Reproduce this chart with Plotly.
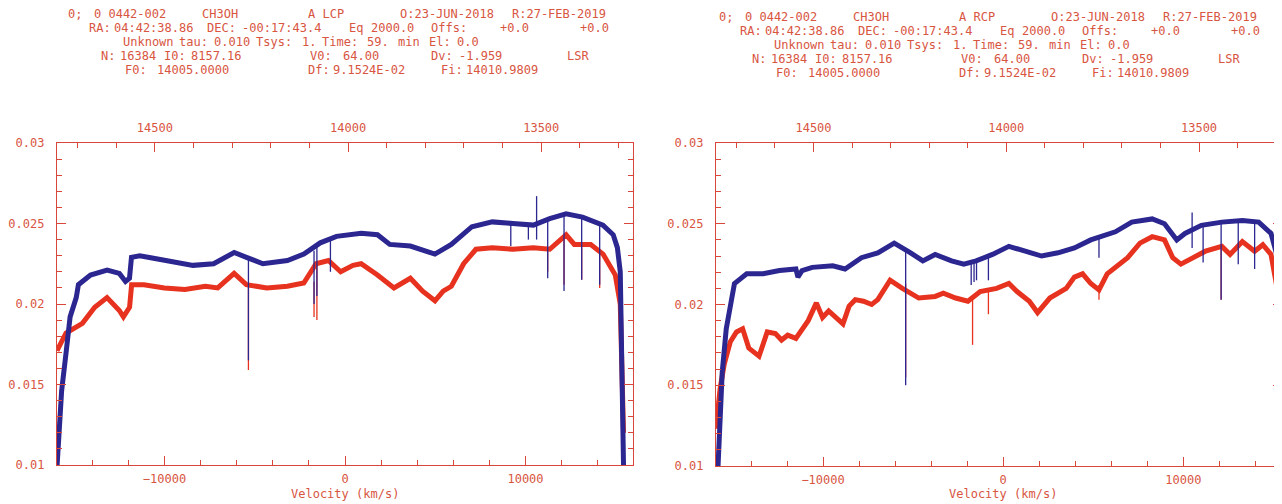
import plotly.graph_objects as go

# ---------------- data ----------------
# spectrum metadata (from header)
F0 = 14005.0      # MHz at reference channel
V0 = 64.0         # km/s at reference channel
DV = -1.959       # km/s per channel
DF = 0.091524     # MHz per channel

# Left panel (A LCP)
left_blue_v = [-15950, -15850, -15700, -15450, -15230, -14890, -14770, -14100, -13180, -12500,
               -12160, -11940, -11830, -11370, -10000, -8420, -7280, -6140, -5460, -4550,
               -3190, -2280, -1370, -470, 900, 1800, 2480, 3620, 4980, 5890,
               7030, 8160, 9300, 10440, 11340, 12250, 13160, 14290, 14860, 15090,
               15250, 15340, 15430]
left_blue_f = [0.0100, 0.0125, 0.0146, 0.0170, 0.0192, 0.0204, 0.0212, 0.0218, 0.0221, 0.0219,
               0.0214, 0.0216, 0.0229, 0.0230, 0.0227, 0.0224, 0.0225, 0.0232, 0.0229, 0.0225,
               0.0227, 0.0231, 0.0238, 0.0242, 0.0244, 0.0243, 0.0237, 0.0236, 0.0231, 0.0237,
               0.0248, 0.0251, 0.0250, 0.0249, 0.0253, 0.0256, 0.0254, 0.0249, 0.0243, 0.0235,
               0.0220, 0.0150, 0.0100]
left_red_v = [-15955, -15455, -14547, -13866, -13185, -12503, -12276, -11935, -11822, -11140,
              -10005, -8870, -7734, -7052, -6144, -5463, -4330, -3192, -2283, -1602,
              -921, -240, 443, 895, 1800, 2713, 3621, 4302, 4984, 5438,
              5892, 6573, 7255, 8163, 9298, 10434, 11342, 12251, 12705, 13613,
              14295, 14976, 15250, 15340, 15430]
left_red_f = [0.0171, 0.0182, 0.0188, 0.0198, 0.0204, 0.0196, 0.0192, 0.0198, 0.0212, 0.0212,
              0.0210, 0.0209, 0.0211, 0.0210, 0.0219, 0.0212, 0.0210, 0.0211, 0.0213, 0.0225,
              0.0227, 0.0220, 0.0224, 0.0225, 0.0218, 0.0210, 0.0216, 0.0208, 0.0202, 0.0208,
              0.0211, 0.0225, 0.0234, 0.0235, 0.0234, 0.0235, 0.0234, 0.0243, 0.0237, 0.0237,
              0.0231, 0.0218, 0.0200, 0.0155, 0.0120]
left_blue_spike_v = [-5350, -1715, -1556, -807, 9185, 10160, 10615, 11230, 12135, 13113, 14110]
left_blue_spike_top = [0.0228, 0.0233, 0.0236, 0.0241, 0.0250, 0.0249, 0.0267, 0.0253, 0.0256, 0.0254, 0.0249]
left_blue_spike_bot = [0.0165, 0.0200, 0.0205, 0.0220, 0.0236, 0.0240, 0.0240, 0.0216, 0.0208, 0.0215, 0.0212]
left_red_spike_v = [-5350, -1715, -1556, 11230, 12135, 13113, 14110]
left_red_spike_top = [0.0212, 0.0214, 0.0224, 0.0234, 0.0240, 0.0237, 0.0232]
left_red_spike_bot = [0.0159, 0.0192, 0.0190, 0.0220, 0.0212, 0.0215, 0.0210]

# Right panel (A RCP)
right_blue_v = [-15830, -15716, -15600, -15375, -15147, -14920, -14238, -13328, -12418, -11508,
                -11395, -11168, -10600, -9462, -8780, -7870, -6960, -6050, -5140, -4460,
                -3777, -2867, -2185, -1503, -593, 316, 1226, 2135, 3045, 3954,
                4864, 6228, 7138, 8275, 8957, 9640, 10094, 11004, 12141, 13278,
                14187, 14870, 15210, 15350, 15470]
right_blue_f = [0.0100, 0.0137, 0.0158, 0.0185, 0.0200, 0.0213, 0.0219, 0.0219, 0.0221, 0.0222,
                0.0217, 0.0221, 0.0223, 0.0224, 0.0222, 0.0229, 0.0232, 0.0238, 0.0232, 0.0227,
                0.0231, 0.0227, 0.0225, 0.0227, 0.0231, 0.0236, 0.0233, 0.0230, 0.0232, 0.0235,
                0.0240, 0.0245, 0.0251, 0.0253, 0.0250, 0.0240, 0.0244, 0.0249, 0.0251, 0.0252,
                0.0251, 0.0244, 0.0230, 0.0210, 0.0160]
right_red_v = [-15943, -15716, -15489, -15147, -14806, -14465, -14124, -13555, -13100, -12646,
               -12305, -11964, -11509, -11281, -10826, -10372, -10030, -9690, -9235, -8894,
               -8553, -8212, -7757, -7302, -6961, -6278, -5596, -4687, -3777, -3322,
               -2640, -1958, -1276, -366, 316, 771, 1453, 1908, 2590, 3500,
               3954, 4409, 4864, 5319, 5774, 6228, 6911, 7593, 8275, 8957,
               9412, 9867, 10549, 11231, 12141, 12596, 13278, 13960, 14415, 14870,
               15210, 15470]
right_red_f = [0.0123, 0.0148, 0.0163, 0.0177, 0.0183, 0.0185, 0.0173, 0.0168, 0.0183, 0.0182,
               0.0178, 0.0181, 0.0179, 0.0183, 0.0190, 0.0201, 0.0192, 0.0196, 0.0191, 0.0188,
               0.0199, 0.0203, 0.0202, 0.0200, 0.0203, 0.0215, 0.0210, 0.0204, 0.0205, 0.0207,
               0.0204, 0.0202, 0.0208, 0.0210, 0.0213, 0.0208, 0.0202, 0.0195, 0.0204, 0.0210,
               0.0217, 0.0219, 0.0213, 0.0209, 0.0219, 0.0223, 0.0229, 0.0238, 0.0242, 0.0240,
               0.0229, 0.0225, 0.0229, 0.0233, 0.0236, 0.0231, 0.0239, 0.0233, 0.0237, 0.0231,
               0.0210, 0.0165]
right_blue_spike_v = [-5414, -1776, -1617, -1480, -820, 5319, 10490, 11100, 12100, 13050, 13960]
right_blue_spike_top = [0.0234, 0.0226, 0.0226, 0.0227, 0.0229, 0.0242, 0.0257, 0.0249, 0.0251, 0.0252, 0.0251]
right_blue_spike_bot = [0.0150, 0.0212, 0.0214, 0.0215, 0.0215, 0.0229, 0.0235, 0.0226, 0.0203, 0.0225, 0.0222]
right_red_spike_v = [-5414, -1700, -820, 5319, 12100]
right_red_spike_top = [0.0213, 0.0205, 0.0210, 0.0212, 0.0236]
right_red_spike_bot = [0.0155, 0.0175, 0.0194, 0.0203, 0.0203]

# header text
header_common = [
    ["0;", "0 0442-002", "CH3OH", None, "O:23-JUN-2018", "R:27-FEB-2019"],
    ["RA:", "04:42:38.86", "DEC:", "-00:17:43.4", "Eq", "2000.0", "Offs:", "+0.0", "+0.0"],
    ["Unknown", "tau:", "0.010", "Tsys:", "1.", "Time:", "59.", "min", "El:", "0.0"],
    ["N:", "16384", "I0:", "8157.16", "V0:", "64.00", "Dv:", "-1.959", "LSR"],
    ["F0:", "14005.0000", "Df:", "9.1524E-02", "Fi:", "14010.9809"],
]
pol_labels = ["A LCP", "A RCP"]
xlabel = "Velocity (km/s)"

# ---------------- layout / style ----------------
W, H = 1282, 504
OFF = 8            # page body margin of the html page
BLUE = "#2b2690"
RED = "#e6321e"
AXC = "#d9473a"
TXT = "#d8553f"
FONT = "DejaVu Sans Mono"


def fx(x):
    return (x - OFF) / W


def fy(y):
    return 1 - (y - OFF) / H


header_x = [
    [66, 92, 200, 306, 398, 510],
    [87, 112, 205, 240, 347, 369, 429, 498, 578],
    [121, 177, 212, 254, 300, 320, 365, 396, 427, 455],
    [99, 118, 162, 189, 308, 341, 429, 457, 565],
    [123, 155, 306, 331, 439, 464],
]
header_y = [14, 28, 42, 56, 70]

panels = [
    dict(xpx=(57, 633), vrange=(-15956, 15956), ypx=(143, 465), hdx=0, hdy=0,
         blue=(left_blue_v, left_blue_f), red=(left_red_v, left_red_f),
         bs=(left_blue_spike_v, left_blue_spike_top, left_blue_spike_bot),
         rs=(left_red_spike_v, left_red_spike_top, left_red_spike_bot), xt=345),
    dict(xpx=(716, 1282), vrange=(-15944, 15480), ypx=(143, 466), hdx=651, hdy=3,
         blue=(right_blue_v, right_blue_f), red=(right_red_v, right_red_f),
         bs=(right_blue_spike_v, right_blue_spike_top, right_blue_spike_bot),
         rs=(right_red_spike_v, right_red_spike_top, right_red_spike_bot), xt=1003),
]


def freq(v):
    return F0 + (v - V0) / DV * DF


fig = go.Figure()
layout = dict(width=W, height=H, margin=dict(l=0, r=0, t=0, b=0),
              paper_bgcolor="white", plot_bgcolor="white", showlegend=False,
              font=dict(family=FONT, color=TXT, size=12))
annotations = []

for i, p in enumerate(panels):
    xb = "x" if i == 0 else "x3"
    xt = "x2" if i == 0 else "x4"
    yy = "y" if i == 0 else "y2"
    xbk = "xaxis" if i == 0 else "xaxis3"
    xtk = "xaxis2" if i == 0 else "xaxis4"
    yk = "yaxis" if i == 0 else "yaxis2"
    dom_x = [fx(p["xpx"][0]), min(1.0, fx(p["xpx"][1]))]
    dom_y = [fy(p["ypx"][1]), fy(p["ypx"][0])]

    # red spectrum + spikes, then blue on top
    for (vv, ff), spk, col in [(p["red"], p["rs"], RED), (p["blue"], p["bs"], BLUE)]:
        fig.add_trace(go.Scatter(x=vv, y=ff, mode="lines", xaxis=xb, yaxis=yy,
                                 line=dict(color=col, width=5), hoverinfo="skip"))
        sx, sy = [], []
        for v, t, b in zip(*spk):
            sx += [v, v, None]
            sy += [t, b, None]
        fig.add_trace(go.Scatter(x=sx, y=sy, mode="lines", xaxis=xb, yaxis=yy,
                                 line=dict(color=col, width=1.3), hoverinfo="skip"))
    # dummy trace to activate the top frequency axis
    fig.add_trace(go.Scatter(x=[freq(p["vrange"][0]), freq(p["vrange"][1])], y=[None, None],
                             mode="lines", xaxis=xt, yaxis=yy, hoverinfo="skip"))

    common = dict(showgrid=False, zeroline=False, showline=True, linecolor=AXC, linewidth=1.3,
                  ticks="inside", tickcolor=AXC, tickwidth=1.2, automargin=False,
                  tickfont=dict(family=FONT, color=TXT, size=12))
    minor = dict(ticks="inside", ticklen=5, tickcolor=AXC, tickwidth=1.2)
    layout[xbk] = dict(common, domain=dom_x, anchor=yy, range=list(p["vrange"]),
                       tick0=0, dtick=10000, ticklen=9, mirror=True, tickformat="d",
                       ticklabelstandoff=2, minor=dict(minor, dtick=2000))
    layout[xtk] = dict(common, domain=dom_x, anchor=yy, overlaying=xb, side="top",
                       range=[freq(p["vrange"][0]), freq(p["vrange"][1])],
                       tick0=0, dtick=500, ticklen=9, tickformat="d",
                       ticklabelstandoff=5, minor=dict(minor, dtick=100))
    layout[yk] = dict(common, domain=dom_y, anchor=xb, range=[0.01, 0.03],
                      tick0=0, dtick=0.005, ticklen=9, mirror="ticks",
                      ticklabelstandoff=9, minor=dict(minor, dtick=0.001))

    # velocity title
    annotations.append(dict(text=xlabel, x=fx(p["xt"]), y=fy(494), xref="paper", yref="paper",
                            showarrow=False, xanchor="center", yanchor="middle",
                            font=dict(family=FONT, color=TXT, size=12)))
    # header
    for li, (chunks, xs) in enumerate(zip(header_common, header_x)):
        for c, x in zip(chunks, xs):
            if c is None:
                c = pol_labels[i]
            annotations.append(dict(text=c, x=fx(x + p["hdx"]), y=fy(header_y[li] + p["hdy"]),
                                    xref="paper", yref="paper", showarrow=False,
                                    xanchor="left", yanchor="middle",
                                    font=dict(family=FONT, color=TXT, size=12)))

layout["annotations"] = annotations
fig.update_layout(**layout)
fig.write_html("out.html")
